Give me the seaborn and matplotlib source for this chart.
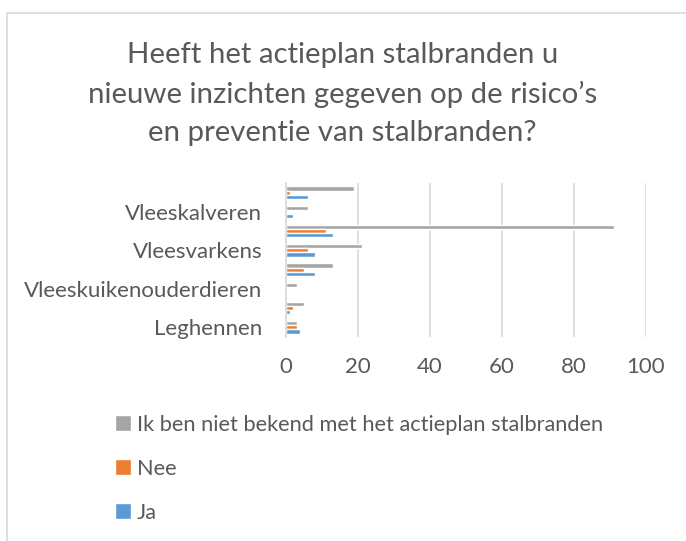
import pandas as pd
import matplotlib
matplotlib.use("Agg")
import matplotlib.pyplot as plt
import matplotlib.patches as patches
import seaborn as sns

# --- DATA (top to bottom, as drawn) ---
categories = ["Overig", "Vleeskalveren", "Melkvee", "Vleesvarkens",
              "Zeugen", "Vleeskuikenouderdieren", "Vleeskuikens", "Leghennen"]
niet_bekend = [19, 6, 91, 21, 13, 3, 5, 3]
nee = [1, 0, 11, 6, 5, 0, 2, 3]
ja = [6, 2, 13, 8, 8, 0, 1, 4]

series_names = ["Ik ben niet bekend met het actieplan stalbranden", "Nee", "Ja"]
colors = ["#A5A5A5", "#ED7D31", "#5B9BD5"]
title = "Heeft het actieplan stalbranden u\nnieuwe inzichten gegeven op de risico’s\nen preventie van stalbranden?"

# --- LONG FORMAT ---
rows = []
for name, vals in zip(series_names, [niet_bekend, nee, ja]):
    for cat, v in zip(categories, vals):
        rows.append({"categorie": cat, "antwoord": name, "aantal": v})
df = pd.DataFrame(rows)

sns.set_theme(style="white")
plt.rcParams["font.family"] = ["Lato", "DejaVu Sans"]
txt = "#595959"

fig = plt.figure(figsize=(6.86, 5.41), dpi=100)
ax = fig.add_axes([286 / 686, 1 - 337 / 541, 360 / 686, 154 / 541])

sns.barplot(data=df, x="aantal", y="categorie", hue="antwoord",
            hue_order=series_names, order=categories, palette=colors,
            saturation=1, orient="h", width=0.64, errorbar=None, ax=ax, legend=True)

ax.set_xlim(0, 100)
ax.set_xticks([0, 20, 40, 60, 80, 100])
ax.xaxis.grid(True, color="#D9D9D9", lw=1.2)
ax.set_axisbelow(True)
ax.set_xlabel("")
ax.set_ylabel("")
for s in ["top", "right", "bottom"]:
    ax.spines[s].set_visible(False)
ax.spines["left"].set_color("#D9D9D9")
ax.spines["left"].set_linewidth(1.2)

# Excel only shows every other category label
ax.set_yticks(range(len(categories)))
ax.set_yticklabels([c if i % 2 == 1 else "" for i, c in enumerate(categories)])
ax.tick_params(axis="y", length=0, pad=17, labelsize=16, labelcolor=txt)
ax.tick_params(axis="x", length=0, pad=14.5, labelsize=16, labelcolor=txt)

handles, labels = ax.get_legend_handles_labels()
ax.get_legend().remove()
fig.legend(handles, labels, loc="upper left", bbox_to_anchor=(104 / 686, 1 - 404 / 541),
           frameon=False, ncol=1, fontsize=15.7, labelcolor=txt, borderpad=0,
           handlelength=0.75, handleheight=0.75, handletextpad=0.25, labelspacing=1.1)

fig.text(0.499, 1 - 94 / 541, title, ha="center", va="center",
         fontsize=21.2, color=txt, linespacing=1.56)

fig.patches.append(patches.Rectangle((7 / 686, -0.1), 1.2, 0.1 + 1 - 12.5 / 541,
                                     transform=fig.transFigure, fill=False,
                                     edgecolor="#D9D9D9", lw=1.2))

fig.savefig("out.png", dpi=100)
